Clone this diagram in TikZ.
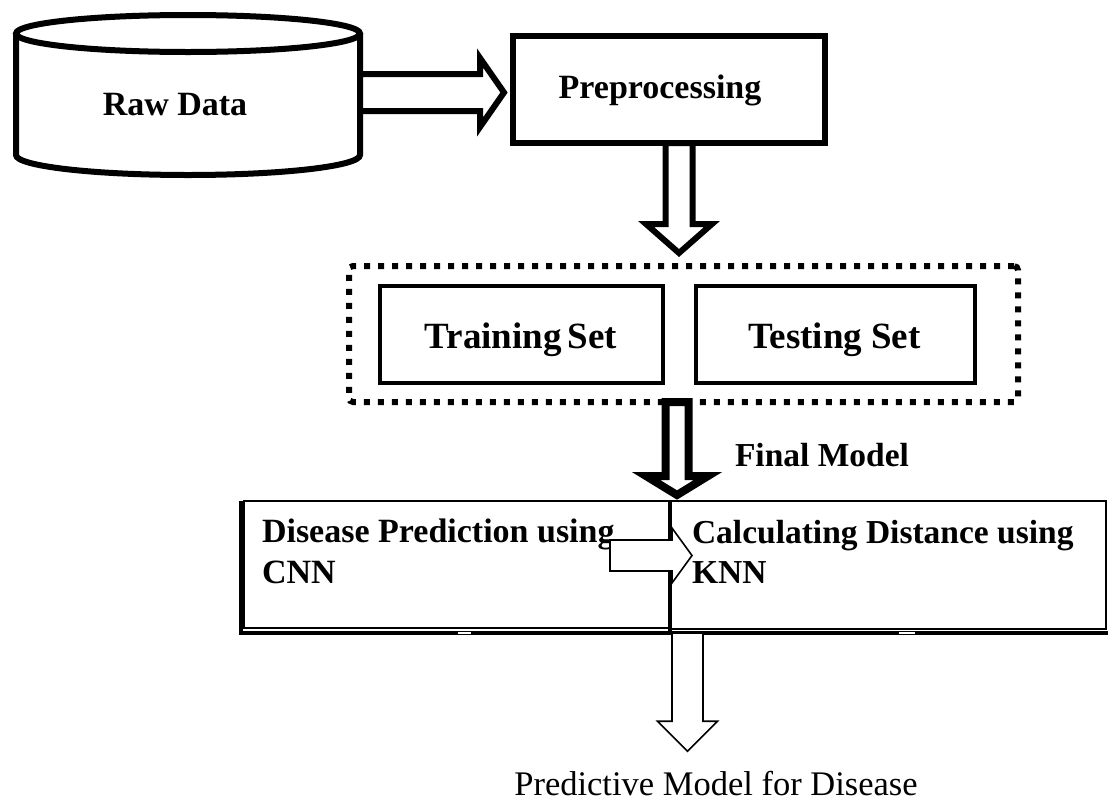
\documentclass[tikz,border=0pt]{standalone}
\usepackage{fontspec}
\setmainfont{Liberation Serif}
\usetikzlibrary{calc}
\newcommand\setfs[1]{\fontsize{#1}{#1}\selectfont}
\newcommand\BlockDown[6]{%
  \draw[#6] let \p1=(#1), \p2=(#2) in
    (\x1-#3pt,\y1) -- (\x1-#3pt,\y2+#5pt) -- (\x1-#4pt,\y2+#5pt) -- (\x1,\y2)
    -- (\x1+#4pt,\y2+#5pt) -- (\x1+#3pt,\y2+#5pt) -- (\x1+#3pt,\y1) -- cycle;}
\newcommand\BlockRight[6]{%
  \draw[#6] let \p1=(#1), \p2=(#2) in
    (\x1,\y1+#3pt) -- (\x2-#5pt,\y1+#3pt) -- (\x2-#5pt,\y1+#4pt) -- (\x2,\y1)
    -- (\x2-#5pt,\y1-#4pt) -- (\x2-#5pt,\y1-#3pt) -- (\x1,\y1-#3pt) -- cycle;}
\tikzset{
  txt/.style={inner sep=0pt, outer sep=0pt},
  cyl/.style={line width=6pt},
  box6/.style={draw, line width=6pt, outer sep=0pt, inner sep=0pt},
  box4/.style={draw, line width=4pt, outer sep=0pt, inner sep=0pt},
  thinbox/.style={draw, line width=1.6pt, outer sep=0pt, inner sep=0pt},
  splitbox/.style={draw, line width=6pt, dash pattern=on 6pt off 8pt, rounded corners=4pt, outer sep=0pt, inner sep=0pt},
  blk6/.style={draw, fill=white, line width=6pt, miter limit=10},
  blk8/.style={draw, fill=white, line width=8pt, miter limit=10},
  thinblk/.style={draw, fill=white, line width=1.6pt, miter limit=10},
}
\begin{document}
\begin{tikzpicture}[x=1pt,y=1pt]
\fill[white] (0,0) rectangle (1108,-801);
\useasboundingbox (0,0) rectangle (1108,-801);

% Raw Data cylinder
\draw[cyl] (16,-33.5) -- (16,-155) arc[start angle=180, end angle=360, x radius=172pt, y radius=20pt] -- (360,-33.5);
\draw[cyl] (188,-33.5) ellipse[x radius=172pt, y radius=18.5pt];
\node[txt, anchor=base] (raw) at (175,-115) {\setfs{34}\bfseries Raw Data};
\coordinate (cylE) at (360,-92.5);

% Preprocessing
\node[box6, minimum width=312pt, minimum height=107pt] (pre) at (669,-89.5) {};
\node[txt, anchor=base] (pretxt) at (660,-98) {\setfs{34}\bfseries Preprocessing};

\BlockRight{cylE}{$(cylE -| pre.west)+(-9,0)$}{18.5}{34.5}{24}{blk6}

% Split
\node[splitbox, minimum width=669pt, minimum height=136pt] (split) at (683.5,-334) {};
\node[box4, minimum width=283pt, minimum height=97pt] (train) at (521.5,-334.5) {};
\node[box4, minimum width=279pt, minimum height=97pt] (test) at (835.5,-334.5) {};
\node[txt, anchor=base] (traintxt) at (521,-348) {\setfs{37}\bfseries Training\hspace{-3pt} Set};
\node[txt, anchor=base] (testtxt) at (834.5,-348) {\setfs{37}\bfseries Testing Set};

\coordinate (xa) at (679,0);
\BlockDown{xa |- pre.south}{$(xa |- split.north)+(0,13)$}{13.5}{33}{29}{blk6}

% Final model boxes
\node[thinbox, minimum width=426pt, minimum height=127pt] (lbox) at (457,-564.5) {};
\node[thinbox, minimum width=436pt, minimum height=128.3pt] (rbox) at (888,-564.85) {};
\draw[line width=3.5pt] (241,-501) -- (241,-633) -- (1108,-633);
\draw[white, line width=2pt] (458,-633) -- (471,-633) (899,-633) -- (915,-633);
\draw[line width=4pt] (lbox.north east) -- ++(0,-133);

\coordinate (xb) at (677,0);
\BlockDown{xb |- split.south}{$(xb |- lbox.north)+(0,6)$}{11.5}{31}{19}{blk8}
\node[txt, anchor=base west] (fm) at (735,-466) {\setfs{33.5}\bfseries Final Model};

\node[txt, anchor=base west] (dp1) at (262,-542) {\setfs{34}\bfseries Disease Prediction using};
\node[txt, anchor=base west] (dp2) at (262,-583) {\setfs{34}\bfseries CNN};
\node[txt, anchor=base west] (cd1) at (692,-543) {\setfs{33.5}\bfseries Calculating Distance using};
\node[txt, anchor=base west] (cd2) at (692,-583) {\setfs{33.5}\bfseries KNN};

\coordinate (sa) at (610,-555.5);
\BlockRight{sa}{$(sa -| lbox.east)+(22,0)$}{15.5}{27.5}{20}{thinblk}

% Output
\node[txt, anchor=base] (pm) at (716,-795) {\setfs{34.5}Predictive Model for Disease};
\coordinate (xc) at (687.5,0);
\BlockDown{$(xc |- lbox.south)+(0,-5)$}{$(xc |- pm.north)+(0,19.5)$}{15.5}{30}{30}{thinblk}
\end{tikzpicture}
\end{document}
